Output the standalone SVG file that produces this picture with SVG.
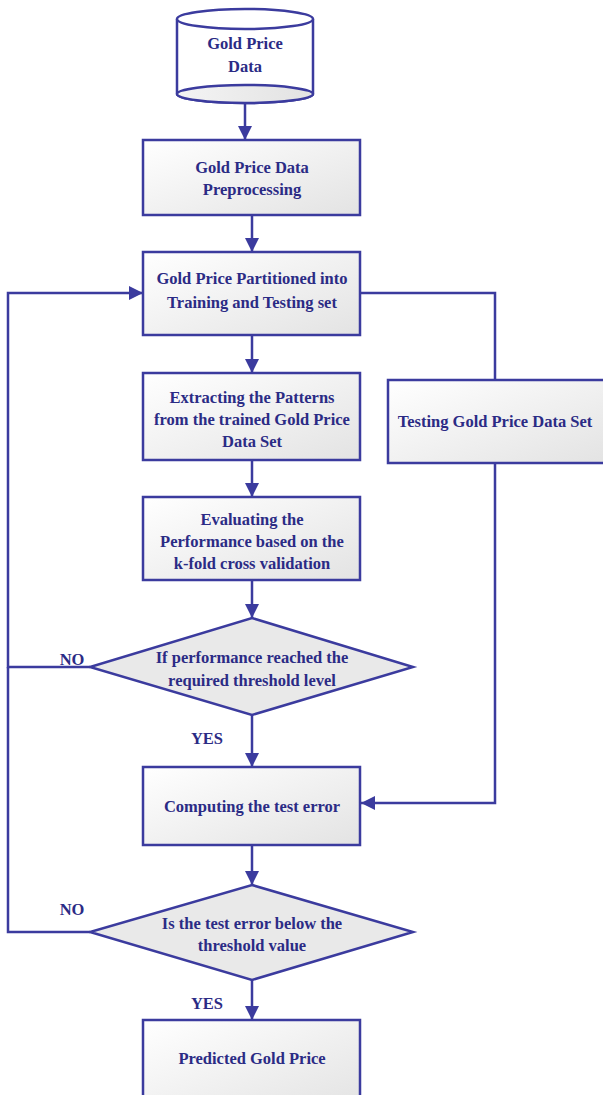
<svg xmlns="http://www.w3.org/2000/svg" width="603" height="1095" viewBox="0 0 603 1095">
<style>
.box{fill:url(#g);stroke:#3b3b9e;stroke-width:2.5}
.dia{fill:#e9e9e9;stroke:#3b3b9e;stroke-width:2.5}
.ln{fill:none;stroke:#3b3b9e;stroke-width:2.5}
text{font-family:"Liberation Serif","Times New Roman","DejaVu Serif",serif;font-weight:bold;font-size:16.5px;fill:#2b2b85;text-anchor:middle}
</style>
<defs>
<linearGradient id="g" x1="0" y1="0" x2="1" y2="1">
<stop offset="0" stop-color="#ffffff"/>
<stop offset="1" stop-color="#e3e3e3"/>
</linearGradient>
<linearGradient id="g2" x1="0" y1="0" x2="1" y2="0">
<stop offset="0" stop-color="#f4f4f4"/>
<stop offset="1" stop-color="#e2e2e2"/>
</linearGradient>
<marker id="a" viewBox="0 0 10 10" refX="10" refY="5" markerWidth="5.6" markerHeight="5.6" orient="auto" markerUnits="strokeWidth">
<path d="M0,0 L10,5 L0,10 z" fill="#3b3b9e"/>
</marker>
</defs>
<g id="connectors">
<path class="ln" d="M245,104 V140" marker-end="url(#a)"/>
<path class="ln" d="M252,216 V252" marker-end="url(#a)"/>
<path class="ln" d="M252,336 V373" marker-end="url(#a)"/>
<path class="ln" d="M252,461 V497" marker-end="url(#a)"/>
<path class="ln" d="M252,581 V618" marker-end="url(#a)"/>
<path class="ln" d="M252,715 V767" marker-end="url(#a)"/>
<path class="ln" d="M252,846 V885" marker-end="url(#a)"/>
<path class="ln" d="M252,980 V1020" marker-end="url(#a)"/>
<path class="ln" d="M361,293 H495 V380"/>
<path class="ln" d="M495,463 V803 H361" marker-end="url(#a)"/>
<path class="ln" d="M90,667 H8 V293 H143" marker-end="url(#a)"/>
<path class="ln" d="M90,932 H8 V667"/>
</g>
<g id="n_data">
<path d="M177,19 V94 A68,9 0 0 0 313,94 V19" fill="#ffffff" stroke="#3b3b9e" stroke-width="2.5"/>
<ellipse cx="245" cy="94" rx="68" ry="9" fill="url(#g2)" stroke="#3b3b9e" stroke-width="2.5"/>
<ellipse cx="245" cy="19" rx="68" ry="10" fill="#ffffff" stroke="#3b3b9e" stroke-width="2.5"/>
<text x="245" y="49">Gold Price</text>
<text x="245" y="72">Data</text>
</g>
<g id="n_pre">
<rect class="box" x="143" y="140" width="217" height="75"/>
<text x="252" y="173">Gold Price Data</text>
<text x="252" y="195">Preprocessing</text>
</g>
<g id="n_part">
<rect class="box" x="143" y="252" width="217" height="83"/>
<text x="252" y="284">Gold Price Partitioned into</text>
<text x="252" y="308">Training and Testing set</text>
</g>
<g id="n_extract">
<rect class="box" x="143" y="373" width="217" height="87"/>
<text x="252" y="403">Extracting the Patterns</text>
<text x="252" y="425">from the trained Gold Price</text>
<text x="252" y="447">Data Set</text>
</g>
<g id="n_testing">
<rect class="box" x="388" y="380" width="218" height="83"/>
<text x="495" y="427">Testing Gold Price Data Set</text>
</g>
<g id="n_eval">
<rect class="box" x="143" y="497" width="217" height="83"/>
<text x="252" y="525">Evaluating the</text>
<text x="252" y="547">Performance based on the</text>
<text x="252" y="569">k-fold cross validation</text>
</g>
<g id="n_dec1">
<polygon class="dia" points="252,618 413,667 252,715 90,667"/>
<text x="252" y="663">If performance reached the</text>
<text x="252" y="686">required threshold level</text>
</g>
<g id="n_comp">
<rect class="box" x="143" y="767" width="217" height="78"/>
<text x="252" y="812">Computing the test error</text>
</g>
<g id="n_dec2">
<polygon class="dia" points="252,885 413,932 252,980 90,932"/>
<text x="252" y="929">Is the test error below the</text>
<text x="252" y="951">threshold value</text>
</g>
<g id="n_pred">
<rect class="box" x="143" y="1020" width="217" height="90"/>
<text x="252" y="1064">Predicted Gold Price</text>
</g>
<g id="labels">
<text x="72" y="665">NO</text>
<text x="207" y="744">YES</text>
<text x="72" y="915">NO</text>
<text x="207" y="1009">YES</text>
</g>
</svg>
